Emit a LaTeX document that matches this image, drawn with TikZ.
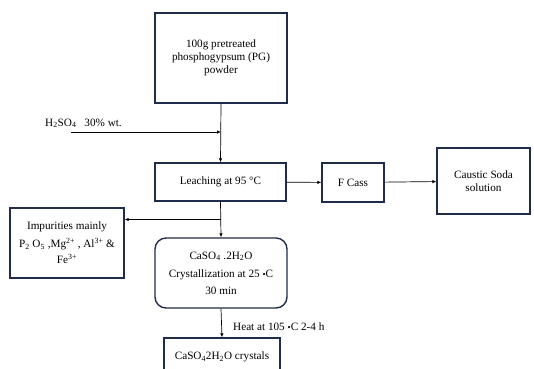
\documentclass[tikz,border=0pt]{standalone}
\usepackage[dvipsnames,svgnames,x11names]{xcolor}
\usepackage{fontspec}
\setmainfont{Liberation Serif}
\usetikzlibrary{calc, positioning, arrows.meta}

\definecolor{BoxNavy}{HTML}{1F2D4A}

\begin{document}
\begin{tikzpicture}[x=1pt, y=-1pt, font=\fontsize{11.2}{13}\selectfont]

\tikzset{
  step box/.style={
    draw=BoxNavy,
    line width=1.4pt,
    align=center,
    inner sep=2pt
  },
  flow/.style={
    line width=0.7pt,
    -{Latex[length=4pt, width=3.5pt]}
  }
}

\useasboundingbox (0,0) rectangle (534,368);

\node[step box, minimum width=132pt, minimum height=90pt] (pg) at (221,58)
  {100g pretreated\\ phosphogypsum (PG)\\ powder};
\node[step box, minimum width=131pt, minimum height=38pt] (leach) at (220.5,182)
  {Leaching at 95 \textdegree C};
\node[step box, minimum width=62pt, minimum height=39pt] (fcass) at (353,182.5)
  {F Cass};
\node[step box, minimum width=93pt, minimum height=66pt] (soda) at (483.5,181)
  {Caustic Soda\\ solution};
\node[step box, minimum width=114pt, minimum height=70pt] (imp) at (67,243)
  {Impurities mainly\\[5pt]
   P\textsubscript{2} O\textsubscript{5} ,Mg\textsuperscript{2+} , Al\textsuperscript{3+} \&\\[3pt]
   Fe\textsuperscript{3+}};
\node[step box, rounded corners=11pt, minimum width=132pt, minimum height=70pt] (cryst) at (221,273)
  {CaSO\textsubscript{4} .2H\textsubscript{2}O\\[5pt]
   Crystallization at 25 {\small\textbullet}C\\[4pt]
   30 min};
\node[step box, minimum width=116pt, minimum height=38pt] (final) at (222,357)
  {CaSO\textsubscript{4}2H\textsubscript{2}O crystals};

\coordinate (acid) at (71,132);
\coordinate (join) at (pg.south |- acid);
\coordinate (split) at ($(leach.south)!0.5!(cryst.north)$);

\node[anchor=south west, inner sep=0pt] (acidlbl) at (45,128)
  {H\textsubscript{2}SO\textsubscript{4}\hspace{8pt}30\% wt.};
\node[anchor=west, inner sep=0pt] (heatlbl) at (233,327)
  {Heat at 105 {\small\textbullet}C 2-4 h};

\draw[flow] (acid) -- (join);
\draw[flow] (pg.south) -- (leach.north);
\draw[flow] (leach) -- (fcass);
\draw[flow] (fcass) -- (soda);
\draw[flow] (leach.south) -- (cryst.north);
\draw[flow] (split) -- (split -| imp.east);
\draw[flow] (cryst.south) -- (final.north);

\end{tikzpicture}
\end{document}
